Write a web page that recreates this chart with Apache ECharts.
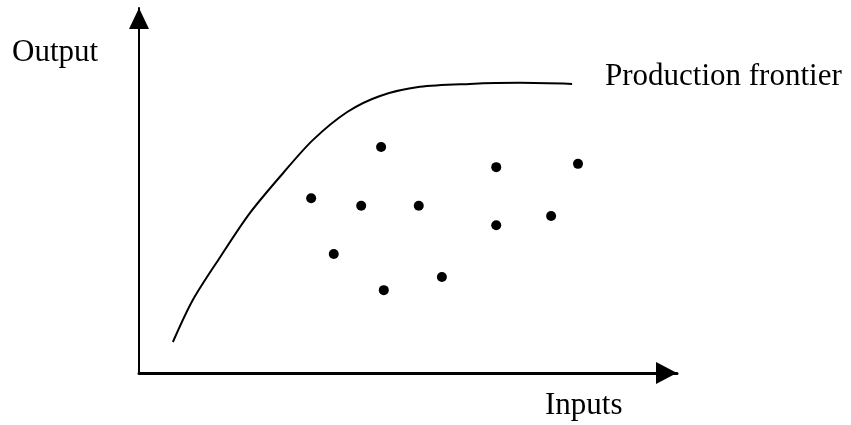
<!DOCTYPE html>
<html>
<head>
<meta charset="utf-8">
<script src="https://cdn.jsdelivr.net/npm/echarts@6/dist/echarts.min.js"></script>
<style>
  html, body { margin: 0; padding: 0; background: #fff; }
  #chart { width: 851px; height: 425px; }
</style>
</head>
<body>
<div id="chart"></div>
<script>
// production frontier curve (inputs, output)
const frontierX = [6.3, 10.0, 15.1, 20.6, 26.8, 32.3, 38.7, 44.8, 52.2, 61.5, 70.8, 80.5];
const frontierY = [8.5, 20.0, 31.8, 43.8, 54.8, 63.8, 71.5, 75.9, 78.4, 79.2, 79.5, 79.2];

// observed firms below the frontier
const firmX = [45.0, 32.0, 41.3, 52.0, 66.4, 81.6, 76.6, 66.4, 36.2, 56.3, 45.5];
const firmY = [61.9, 47.9, 45.8, 45.8, 56.4, 57.3, 43.0, 40.5, 32.6, 26.3, 22.7];

const labels = ['Output', 'Inputs', 'Production frontier'];

const chart = echarts.init(document.getElementById('chart'));

const font = '"Liberation Serif", "Times New Roman", serif';

const axisBase = {
  type: 'value',
  min: 0,
  max: 100,
  splitLine: { show: false },
  axisTick: { show: false },
  axisLabel: { show: false },
};

const option = {
  animation: false,
  grid: { left: 139, right: 174, top: 8, bottom: 52 },
  xAxis: Object.assign({}, axisBase, {
    axisLine: {
      show: true,
      symbol: ['none', 'triangle'],
      symbolSize: [22, 21],
      symbolOffset: [0, -10.5],
      lineStyle: { color: '#000', width: 3 },
    },
  }),
  yAxis: Object.assign({}, axisBase, {
    axisLine: {
      show: true,
      symbol: ['none', 'triangle'],
      symbolSize: [20, 21],
      symbolOffset: [0, -10.5],
      lineStyle: { color: '#000', width: 2 },
    },
  }),
  series: [
    {
      type: 'line',
      data: frontierX.map((x, i) => [x, frontierY[i]]),
      smooth: 0.3,
      showSymbol: false,
      lineStyle: { color: '#000', width: 2 },
    },
    {
      type: 'scatter',
      data: firmX.map((x, i) => [x, firmY[i]]),
      symbolSize: 10,
      itemStyle: { color: '#000', opacity: 1 },
    },
  ],
  graphic: [
    { type: 'text', left: 12, top: 37, style: { text: labels[0], font: '31px ' + font, fill: '#000' } },
    { type: 'text', left: 545, top: 390, style: { text: labels[1], font: '31px ' + font, fill: '#000' } },
    { type: 'text', left: 605, top: 61, style: { text: labels[2], font: '31px ' + font, fill: '#000' } },
  ],
};

chart.setOption(option);
</script>
</body>
</html>
